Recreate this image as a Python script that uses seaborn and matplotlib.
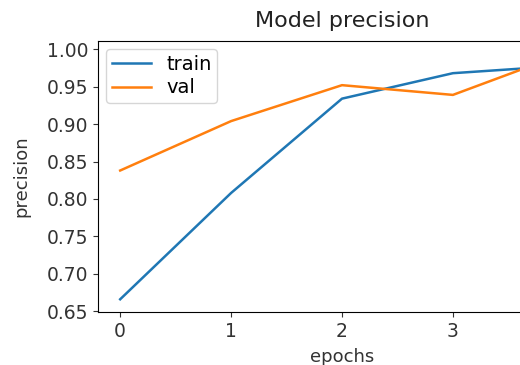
import matplotlib
matplotlib.use("Agg")
import matplotlib.pyplot as plt
import seaborn as sns
import pandas as pd

epochs = [0, 1, 2, 3, 4]
train_precision = [0.666, 0.808, 0.934, 0.968, 0.978]
val_precision = [0.838, 0.904, 0.952, 0.939, 0.994]
x_ticks = [0, 1, 2, 3]
y_ticks = [0.65, 0.70, 0.75, 0.80, 0.85, 0.90, 0.95, 1.00]

df = pd.DataFrame({"epochs": epochs, "train": train_precision, "val": val_precision})

fig = plt.figure(figsize=(5.2, 3.65), dpi=100)
ax = fig.add_axes([98 / 520, 53 / 365, 488 / 520, 271 / 365])

sns.lineplot(data=df, x="epochs", y="train", ax=ax, label="train",
             color="#1f77b4", linewidth=1.8)
sns.lineplot(data=df, x="epochs", y="val", ax=ax, label="val",
             color="#ff7f0e", linewidth=1.8)

ax.set_xlim(-0.2, 4.2)
ax.set_ylim(0.649, 1.011)
ax.set_xticks(x_ticks)
ax.set_yticks(y_ticks)
ax.set_yticklabels([f"{v:.2f}" for v in y_ticks])
ax.tick_params(labelsize=13.5, colors="#333333", labelcolor="#333333")
ax.set_title("Model precision", fontsize=16, color="#222222", pad=10)
ax.set_xlabel("epochs", fontsize=13, color="#333333", labelpad=5)
ax.set_ylabel("precision", fontsize=13, color="#333333", labelpad=12)
ax.legend(loc="upper left", fontsize=14, handlelength=2.0, borderaxespad=0.4,
          labelspacing=0.25, borderpad=0.3)

fig.savefig("out.png", dpi=100)
